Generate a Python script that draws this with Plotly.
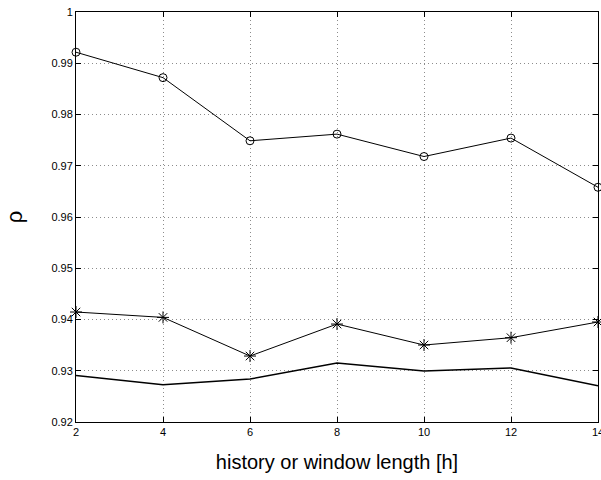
import plotly.graph_objects as go

x_hours = [2, 4, 6, 8, 10, 12, 14]
rho_circle = [0.99215, 0.98719, 0.97487, 0.97617, 0.97180, 0.97540, 0.96580]
rho_star = [0.94146, 0.94041, 0.93287, 0.93911, 0.93502, 0.93645, 0.93951]
rho_plain = [0.92909, 0.92728, 0.92838, 0.93150, 0.92995, 0.93054, 0.92708]

y_ticks = [0.92, 0.93, 0.94, 0.95, 0.96, 0.97, 0.98, 0.99, 1.0]
y_tick_labels = ["0.92", "0.93", "0.94", "0.95", "0.96", "0.97", "0.98", "0.99", "1"]
x_ticks = [2, 4, 6, 8, 10, 12, 14]

fig = go.Figure()
fig.add_trace(go.Scatter(x=x_hours, y=rho_circle, mode="lines+markers",
                         line=dict(color="black", width=1),
                         marker=dict(symbol="circle-open", size=8, color="black",
                                     line=dict(width=1, color="black")),
                         cliponaxis=False, showlegend=False))
fig.add_trace(go.Scatter(x=x_hours, y=rho_star, mode="lines+markers",
                         line=dict(color="black", width=1),
                         marker=dict(symbol="asterisk-open", size=10, color="black",
                                     line=dict(width=1, color="black")),
                         cliponaxis=False, showlegend=False))
fig.add_trace(go.Scatter(x=x_hours, y=rho_plain, mode="lines",
                         line=dict(color="black", width=1.5),
                         cliponaxis=False, showlegend=False))

axis_common = dict(showline=True, linecolor="black", linewidth=1, mirror="ticks",
                   ticks="inside", ticklen=5, tickcolor="black", tickwidth=1,
                   showgrid=True, gridcolor="#8c8c8c", griddash="1px,3px", gridwidth=1,
                   zeroline=False, ticklabeloverflow="allow", automargin=False,
                   tickfont=dict(family="Liberation Sans, Arial", size=11, color="black"))

fig.update_xaxes(range=[2, 14], tickvals=x_ticks, ticktext=[str(v) for v in x_ticks],
                 title=dict(text="history or window length [h]",
                            font=dict(family="Liberation Sans, Arial", size=20, color="black"),
                            standoff=17),
                 **axis_common)
fig.update_yaxes(range=[0.92, 1.0], tickvals=y_ticks, ticktext=y_tick_labels,
                 title=dict(text="ρ", font=dict(family="Liberation Sans, Arial", size=22, color="black"),
                            standoff=22),
                 **axis_common)

fig.update_layout(width=601, height=480, plot_bgcolor="white", paper_bgcolor="white",
                  margin=dict(l=76, r=3, t=12, b=58))

fig.write_html("out.html", config={"displayModeBar": False},
               post_script="document.body.style.margin='0';")
